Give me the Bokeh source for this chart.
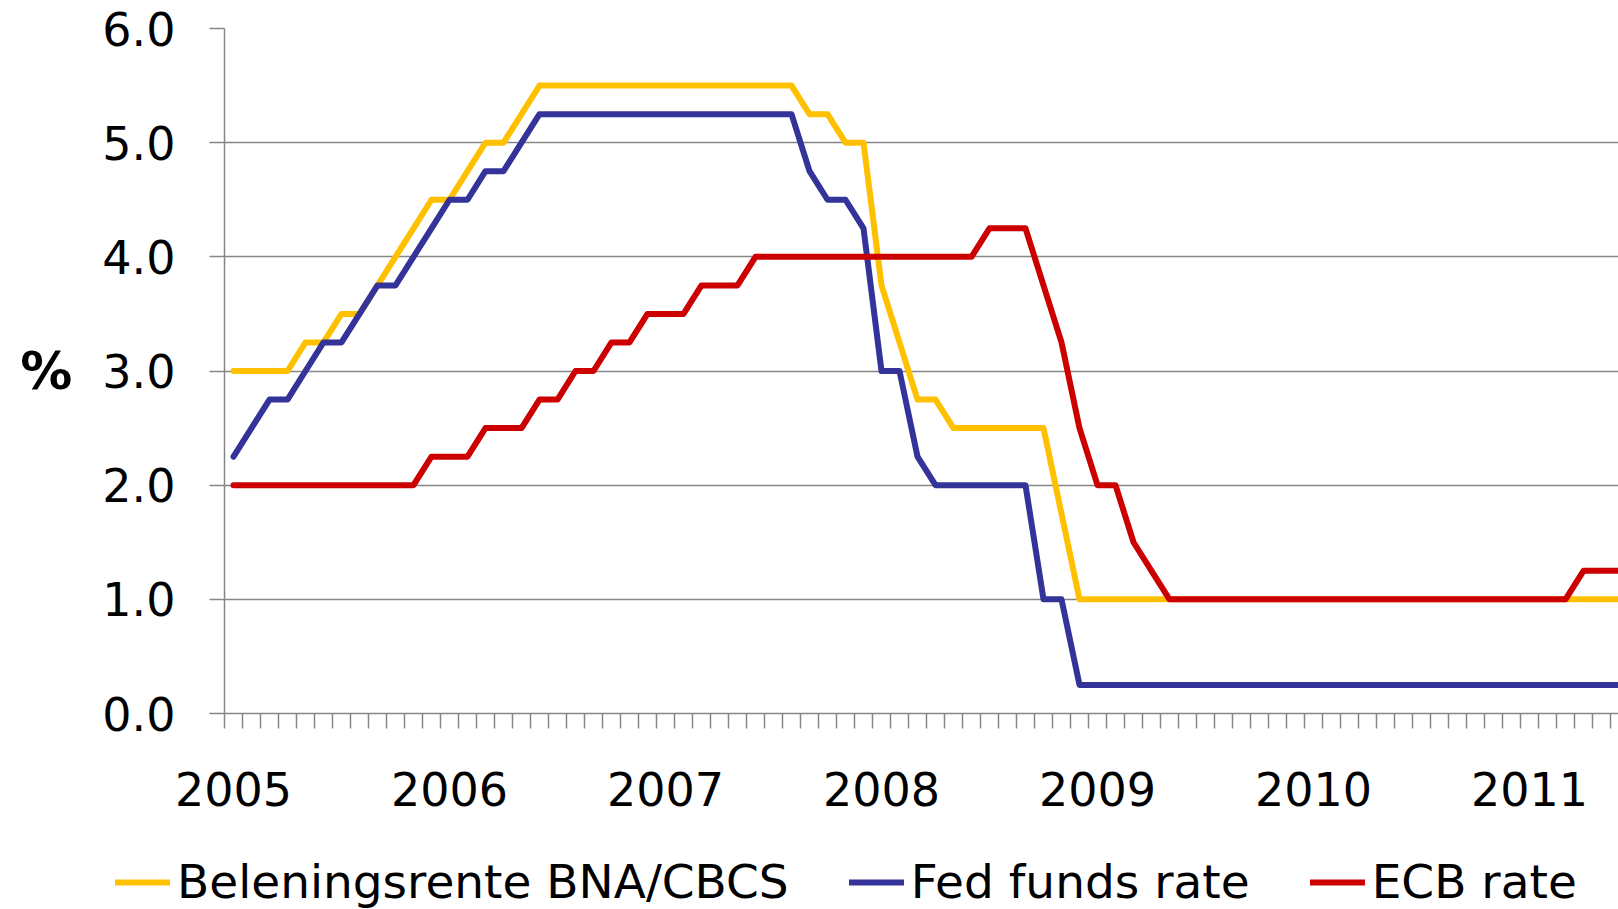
from bokeh.plotting import figure
from bokeh.layouts import column
from bokeh.models import FixedTicker, Legend, LegendItem, ColumnDataSource, Range1d
from bokeh.embed import file_html
from bokeh.resources import INLINE

# ---- data (monthly, Jan 2005 - Jun 2011) ----
months = [f"{y}-{m:02d}" for y in range(2005, 2012) for m in range(1, 13)][:78]

beleningsrente = [
    3.0, 3.0, 3.0, 3.0, 3.25, 3.25, 3.5, 3.5, 3.75, 4.0, 4.25, 4.5,          # 2005
    4.5, 4.75, 5.0, 5.0, 5.25, 5.5, 5.5, 5.5, 5.5, 5.5, 5.5, 5.5,            # 2006
    5.5, 5.5, 5.5, 5.5, 5.5, 5.5, 5.5, 5.5, 5.25, 5.25, 5.0, 5.0,            # 2007
    3.75, 3.25, 2.75, 2.75, 2.5, 2.5, 2.5, 2.5, 2.5, 2.5, 1.75, 1.0,         # 2008
    1.0, 1.0, 1.0, 1.0, 1.0, 1.0, 1.0, 1.0, 1.0, 1.0, 1.0, 1.0,              # 2009
    1.0, 1.0, 1.0, 1.0, 1.0, 1.0, 1.0, 1.0, 1.0, 1.0, 1.0, 1.0,              # 2010
    1.0, 1.0, 1.0, 1.0, 1.0, 1.0,                                            # 2011
]
fed_funds = [
    2.25, 2.5, 2.75, 2.75, 3.0, 3.25, 3.25, 3.5, 3.75, 3.75, 4.0, 4.25,
    4.5, 4.5, 4.75, 4.75, 5.0, 5.25, 5.25, 5.25, 5.25, 5.25, 5.25, 5.25,
    5.25, 5.25, 5.25, 5.25, 5.25, 5.25, 5.25, 5.25, 4.75, 4.5, 4.5, 4.25,
    3.0, 3.0, 2.25, 2.0, 2.0, 2.0, 2.0, 2.0, 2.0, 1.0, 1.0, 0.25,
    0.25, 0.25, 0.25, 0.25, 0.25, 0.25, 0.25, 0.25, 0.25, 0.25, 0.25, 0.25,
    0.25, 0.25, 0.25, 0.25, 0.25, 0.25, 0.25, 0.25, 0.25, 0.25, 0.25, 0.25,
    0.25, 0.25, 0.25, 0.25, 0.25, 0.25,
]
ecb = [
    2.0, 2.0, 2.0, 2.0, 2.0, 2.0, 2.0, 2.0, 2.0, 2.0, 2.0, 2.25,
    2.25, 2.25, 2.5, 2.5, 2.5, 2.75, 2.75, 3.0, 3.0, 3.25, 3.25, 3.5,
    3.5, 3.5, 3.75, 3.75, 3.75, 4.0, 4.0, 4.0, 4.0, 4.0, 4.0, 4.0,
    4.0, 4.0, 4.0, 4.0, 4.0, 4.0, 4.25, 4.25, 4.25, 3.75, 3.25, 2.5,
    2.0, 2.0, 1.5, 1.25, 1.0, 1.0, 1.0, 1.0, 1.0, 1.0, 1.0, 1.0,
    1.0, 1.0, 1.0, 1.0, 1.0, 1.0, 1.0, 1.0, 1.0, 1.0, 1.0, 1.0,
    1.0, 1.0, 1.0, 1.25, 1.25, 1.25,
]
series_names = ["Beleningsrente BNA/CBCS", "Fed funds rate", "ECB rate"]
series_colors = ["#FFC000", "#333399", "#CC0000"]
year_labels = ["2005", "2006", "2007", "2008", "2009", "2010", "2011"]
y_ticks = [0, 1, 2, 3, 4, 5, 6]
y_tick_labels = ["0.0", "1.0", "2.0", "3.0", "4.0", "5.0", "6.0"]

x = list(range(len(months)))
src = ColumnDataSource(dict(x=x, bel=beleningsrente, fed=fed_funds, ecb=ecb))
cols = ["bel", "fed", "ecb"]

FONT = "DejaVu Sans"
GRAY = "#868686"
LW = 6

MAIN_H = 830
p = figure(width=1618, height=MAIN_H, output_backend="svg", toolbar_location=None,
           x_range=Range1d(-0.5, -0.5 + 1394 / 18.0), y_range=Range1d(0, 6),
           min_border_left=224, min_border_right=0, min_border_top=28,
           min_border_bottom=MAIN_H - 713)
p.outline_line_color = None
p.background_fill_color = "white"

for col, color in zip(cols, series_colors):
    p.line("x", col, source=src, line_color=color, line_width=LW,
           line_join="round", line_cap="round")

# grid
p.xgrid.visible = False
p.ygrid.ticker = FixedTicker(ticks=y_ticks[1:])
p.ygrid.grid_line_color = GRAY
p.ygrid.grid_line_width = 1.5

# y axis
ya = p.yaxis[0]
ya.ticker = FixedTicker(ticks=y_ticks)
ya.major_label_overrides = {t: l for t, l in zip(y_ticks, y_tick_labels)}
ya.major_tick_out = 15
ya.major_tick_in = 0
ya.minor_tick_out = 0
ya.minor_tick_in = 0
ya.major_tick_line_color = GRAY
ya.major_tick_line_width = 1.5
ya.axis_line_color = GRAY
ya.axis_line_width = 1.5
ya.major_label_standoff = 34
ya.major_label_text_font = FONT
ya.major_label_text_font_size = "46px"
ya.major_label_text_color = "black"
ya.axis_label = "%"
ya.axis_label_orientation = "horizontal"
ya.axis_label_text_font = FONT
ya.axis_label_text_font_style = "bold"
ya.axis_label_text_font_size = "52px"
ya.axis_label_text_color = "black"
ya.axis_label_standoff = 27

# x axis
year_pos = [months.index(f"{y}-01") for y in year_labels]
xa = p.xaxis[0]
xa.ticker = FixedTicker(ticks=year_pos, minor_ticks=[k - 0.5 for k in range(len(months) + 2)])
xa.major_label_overrides = {pos: lab for pos, lab in zip(year_pos, year_labels)}
xa.major_tick_out = 15
xa.major_tick_in = 0
xa.major_tick_line_color = None
xa.minor_tick_out = 15
xa.minor_tick_in = 0
xa.minor_tick_line_color = GRAY
xa.minor_tick_line_width = 1.5
xa.axis_line_color = GRAY
xa.axis_line_width = 1.5
xa.major_label_standoff = 43
xa.major_label_text_font = FONT
xa.major_label_text_font_size = "46px"
xa.major_label_text_color = "black"

# ---- legend strip below the chart ----
LEG_H = 909 - MAIN_H
pl = figure(width=1618, height=LEG_H, output_backend="svg", toolbar_location=None,
            x_range=Range1d(0, 1), y_range=Range1d(100, 101),
            x_axis_type=None, y_axis_type=None, min_border=0,
            min_border_left=0, min_border_right=0)
pl.outline_line_color = None
pl.xgrid.visible = False
pl.ygrid.visible = False

# stop the column from aligning the strip's frame with the chart's frame
has_frame_align = "frame_align" in pl.properties()
if has_frame_align:
    pl.frame_align = False
    p.frame_align = False
leg_x = 115 if has_frame_align else -109

leg_renderers = []
for col, color in zip(cols, series_colors):
    # same series, outside this strip's visible range: only the legend keys show
    r = pl.line("x", col, source=src, line_color=color, line_width=LW, line_cap="round")
    leg_renderers.append(r)

items = [LegendItem(label=n, renderers=[r]) for n, r in zip(series_names, leg_renderers)]
legend = Legend(items=items, orientation="horizontal", location=(leg_x, 0),
                label_text_font=FONT, label_text_font_size="47px",
                label_text_color="black",
                glyph_width=55, glyph_height=30, label_standoff=7, spacing=60,
                padding=0, margin=0, border_line_color=None,
                background_fill_alpha=0)
pl.add_layout(legend, "center")

layout = column(p, pl, spacing=0)
open("out.html", "w").write(file_html(layout, INLINE))
